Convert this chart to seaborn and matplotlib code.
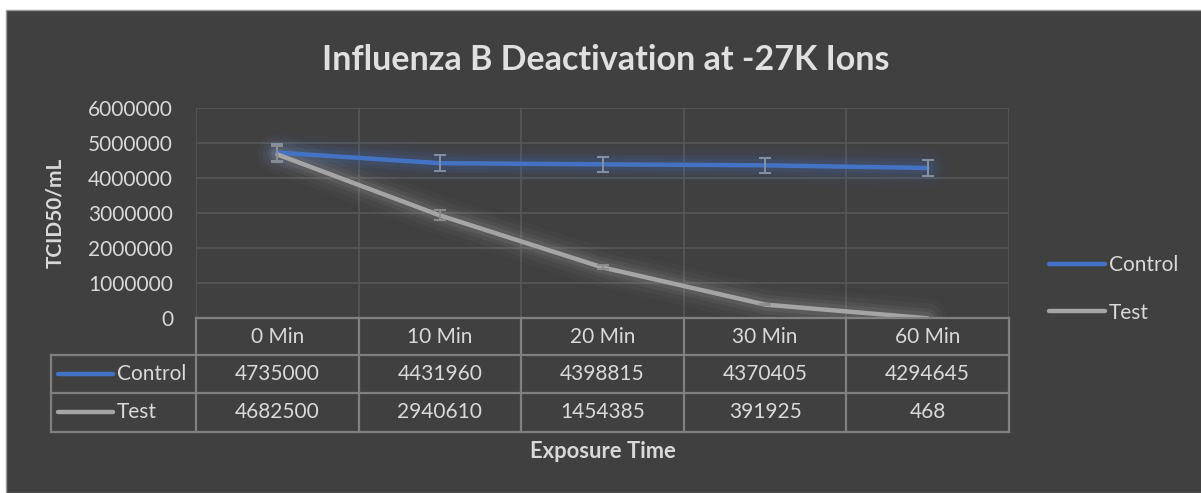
import numpy as np
import pandas as pd
import matplotlib
matplotlib.use("Agg")
import matplotlib.pyplot as plt
import matplotlib.transforms as mtransforms
import seaborn as sns

# Daten aus der Excel-Tabelle
times = ["0 Min", "10 Min", "20 Min", "30 Min", "60 Min"]
control = [4735000, 4431960, 4398815, 4370405, 4294645]
test = [4682500, 2940610, 1454385, 391925, 468]
control_err = [250000, 230000, 220000, 220000, 230000]
test_err = [230000, 140000, 60000, 20000, 0]
yticks = [0, 1000000, 2000000, 3000000, 4000000, 5000000, 6000000]
groups = ["Control", "Test"]

BG = "#404040"
TXT = "#d9d9d9"
BLUE = "#4472c4"
GRAY = "#a5a5a5"
GRID = "#575757"
BORDER = "#808080"

sns.set_style("dark")
plt.rcParams["font.family"] = ["Lato", "DejaVu Sans"]

df = pd.DataFrame({
    "time": times * 2,
    "value": control + test,
    "group": ["Control"] * len(times) + ["Test"] * len(times),
})

fig = plt.figure(figsize=(12.01, 4.93), dpi=100, facecolor="white")
fig.patches.append(plt.Rectangle((6 / 1201, 0), 1, 1 - 10 / 493, transform=fig.transFigure,
                                 facecolor=BG, edgecolor="#9a9a9a", linewidth=1, zorder=-10))
ax = fig.add_axes([196 / 1201, 1 - 318.3 / 493, 813 / 1201, 210 / 493])
ax.set_facecolor("none")
ax.set_zorder(2)

# Glow unter den Linien
for vals, col in [(control, BLUE), (test, GRAY)]:
    for lw, a in [(28, 0.04), (21, 0.06), (14, 0.09), (9, 0.12)]:
        ax.plot(times, vals, color=col, lw=lw, alpha=a, solid_capstyle="round",
                solid_joinstyle="round", zorder=1, label="_nolegend_")

sns.lineplot(data=df, x="time", y="value", hue="group", hue_order=groups,
             palette={"Control": BLUE, "Test": GRAY}, linewidth=3.2, sort=False,
             ax=ax, zorder=3)
for line in ax.get_lines():
    line.set_solid_capstyle("round")

ax.errorbar(times, control, yerr=control_err, fmt="none", ecolor="#8390a6",
            elinewidth=1.4, capsize=4, capthick=1.4, zorder=4)
ax.errorbar(times, test, yerr=test_err, fmt="none", ecolor="#8c8c8c",
            elinewidth=1.4, capsize=4, capthick=1.4, zorder=4)

ax.set_xlim(-0.5, len(times) - 0.5)
ax.set_ylim(0, 6000000)
ax.set_yticks(yticks)
ax.set_yticklabels([str(v) for v in yticks])
ax.set_xticks(np.arange(-0.5, len(times), 1), minor=True)
ax.grid(False)
ax.grid(which="major", axis="y", color=GRID, lw=1.2)
ax.grid(which="minor", axis="x", color=GRID, lw=1.2)
for s in ax.spines.values():
    s.set_visible(False)
ax.tick_params(axis="y", length=0, pad=16.5, labelsize=15, labelcolor=TXT)
ax.tick_params(axis="x", which="both", length=0, labelbottom=False)

# Datentabelle unter der Achse
blend = mtransforms.blended_transform_factory(ax.transData, ax.transAxes)
y_hdr_bot, y_r1_bot, y_r2_bot = -0.1748, -0.357, -0.540
x_lab = -0.1784
tk = dict(color=BORDER, lw=1.6, clip_on=False, zorder=5, solid_capstyle="projecting")
ax.plot([0, 1], [0, 0], transform=ax.transAxes, **tk)
for yb in [y_hdr_bot, y_r1_bot, y_r2_bot]:
    ax.plot([x_lab, 1], [yb, yb], transform=ax.transAxes, **tk)
ax.plot([x_lab, x_lab], [y_hdr_bot, y_r2_bot], transform=ax.transAxes, **tk)
for xb in np.arange(-0.5, len(times), 1):
    ax.plot([xb, xb], [0, y_r2_bot], transform=blend, **tk)

cell = dict(ha="center", va="center", fontsize=15, color=TXT, transform=blend, clip_on=False)
y_hdr = y_hdr_bot / 2
y_r1 = (y_hdr_bot + y_r1_bot) / 2
y_r2 = (y_r1_bot + y_r2_bot) / 2
for i, t in enumerate(times):
    ax.text(i, y_hdr, t, **cell)
    ax.text(i, y_r1, str(control[i]), **cell)
    ax.text(i, y_r2, str(test[i]), **cell)
for yr, name, col in [(y_r1, "Control", BLUE), (y_r2, "Test", GRAY)]:
    ax.plot([-0.1697, -0.1021], [yr, yr], transform=ax.transAxes, color=col, lw=3.2,
            solid_capstyle="round", clip_on=False)
    ax.text(-0.0972, yr, name, ha="left", va="center", fontsize=15, color=TXT,
            transform=ax.transAxes, clip_on=False)

ax.set_xlabel("Exposure Time", fontsize=15.8, fontweight="bold", color=TXT, va="center")
ax.xaxis.set_label_coords(0.5, -0.635)
ax.set_ylabel("TCID50/mL", fontsize=15, fontweight="bold", color=TXT, va="center")
ax.yaxis.set_label_coords(-0.1734, 0.5)

fig.text(606 / 1201, 1 - 60 / 493, "Influenza B Deactivation at -27K Ions", ha="center",
         va="center", fontsize=24.5, fontweight="bold", color="#e0e0e0")

handles, labels = ax.get_legend_handles_labels()
ax.legend(handles, labels, loc="center left", bbox_to_anchor=(1030 / 1201, 1 - 289 / 493),
          bbox_transform=fig.transFigure, frameon=False, fontsize=15, labelcolor=TXT,
          handlelength=2.7, handletextpad=0.2, labelspacing=1.3)

fig.savefig("out.png", dpi=100, facecolor=fig.get_facecolor())
